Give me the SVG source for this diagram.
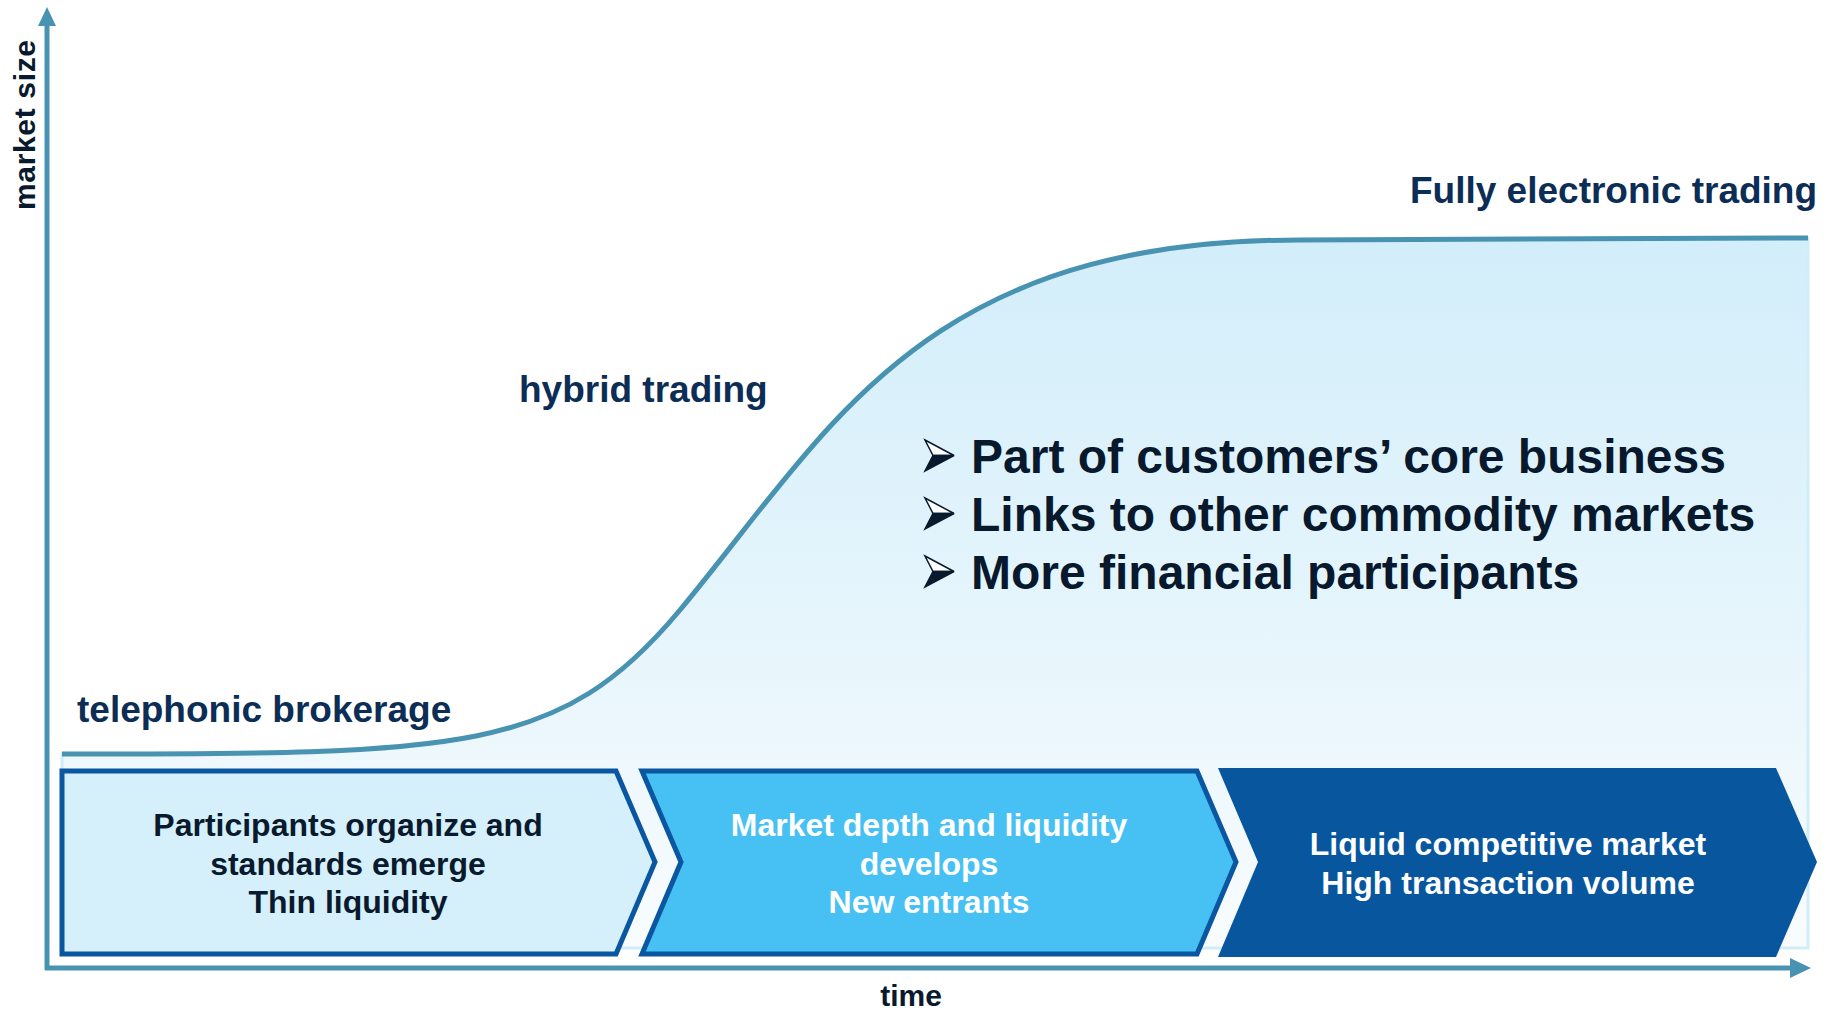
<svg xmlns="http://www.w3.org/2000/svg" width="1830" height="1010" viewBox="0 0 1830 1010">
<defs>
<linearGradient id="areaGrad" x1="0" y1="238" x2="0" y2="948" gradientUnits="userSpaceOnUse">
<stop offset="0" stop-color="#d2eefa"/>
<stop offset="0.55" stop-color="#e6f5fc"/>
<stop offset="1" stop-color="#f8fcfe"/>
</linearGradient>
<g id="bullet">
<polygon points="0,0 29,15.5 8,15.5" fill="#ffffff" stroke="#0a1a2e" stroke-width="1.5" stroke-linejoin="miter"/>
<polygon points="8,15.5 29,15.5 0,31" fill="#0a1a2e" stroke="#0a1a2e" stroke-width="1.5"/>
</g>
</defs>
<style>
.lbl{font-family:"Liberation Sans",Arial,sans-serif;font-weight:bold;font-size:37px;fill:#0c2d55}
.bul{font-family:"Liberation Sans",Arial,sans-serif;font-weight:bold;font-size:48px;fill:#08192d}
.ax{font-family:"Liberation Sans",Arial,sans-serif;font-weight:bold;font-size:30px;fill:#0a1a2e}
.ct{font-family:"Liberation Sans",Arial,sans-serif;font-weight:bold;font-size:32px;text-anchor:middle}
.dark{fill:#0a1a2e}
.white{fill:#ffffff}
.chev{stroke:#0a56a0;stroke-width:5;stroke-linejoin:miter}
</style>
<rect width="1830" height="1010" fill="#ffffff"/>

<g id="area">
<path d="M62,754 C462,754 560,754 680,610 C830,430 920,240 1300,240 L1808,238 L1808,948 L62,948 Z" fill="url(#areaGrad)" stroke="#d2edf9" stroke-width="3"/>
<path d="M62,754 C462,754 560,754 680,610 C830,430 920,240 1300,240 L1808,238" fill="none" stroke="#4893b1" stroke-width="5"/>
</g>

<g id="connectors">
<line x1="47" y1="970" x2="47" y2="24" stroke="#4893b1" stroke-width="5"/>
<polygon points="47,7 38,26 56,26" fill="#4893b1"/>
<line x1="45" y1="968" x2="1792" y2="968" stroke="#4893b1" stroke-width="5"/>
<polygon points="1811,968 1790,958 1790,978" fill="#4893b1"/>
</g>

<g id="axis-labels">
<text class="ax" transform="translate(35,125) rotate(-90)" text-anchor="middle" font-size="31" textLength="170" lengthAdjust="spacing">market size</text>
<text class="ax" x="911" y="1006" text-anchor="middle">time</text>
</g>

<g id="stage-labels">
<text class="lbl" x="77" y="722">telephonic brokerage</text>
<text class="lbl" x="519" y="402">hybrid trading</text>
<text class="lbl" x="1410" y="203">Fully electronic trading</text>
</g>

<g id="bullets">
<use href="#bullet" x="925" y="440"/>
<text class="bul" x="971" y="473">Part of customers’ core business</text>
<use href="#bullet" x="925" y="498"/>
<text class="bul" x="971" y="531">Links to other commodity markets</text>
<use href="#bullet" x="925" y="556"/>
<text class="bul" x="971" y="589">More financial participants</text>
</g>

<g id="phase1">
<path class="chev" d="M62,771 L616,771 L655,862 L616,954 L62,954 Z" fill="#d5f0fb"/>
<text class="ct dark" x="348" y="836">Participants organize and</text>
<text class="ct dark" x="348" y="875">standards emerge</text>
<text class="ct dark" x="348" y="913">Thin liquidity</text>
</g>

<g id="phase2">
<path class="chev" d="M642,771 L1197,771 L1236,862 L1197,954 L642,954 L681,862 Z" fill="#47c1f3"/>
<text class="ct white" x="929" y="836">Market depth and liquidity</text>
<text class="ct white" x="929" y="875">develops</text>
<text class="ct white" x="929" y="913">New entrants</text>
</g>

<g id="phase3">
<path d="M1218,768 L1776,768 L1817,862 L1776,957 L1218,957 L1258,862 Z" fill="#07569e"/>
<text class="ct white" x="1508" y="855">Liquid competitive market</text>
<text class="ct white" x="1508" y="894">High transaction volume</text>
</g>
</svg>
